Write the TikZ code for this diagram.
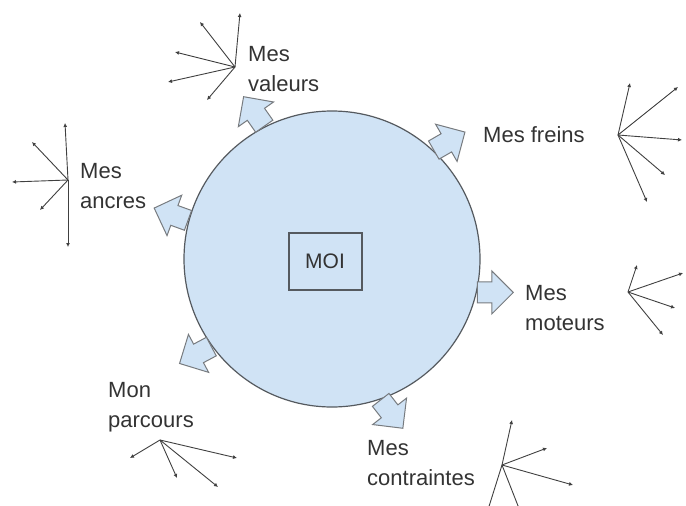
\documentclass[tikz,border=0pt]{standalone}
\usepackage{fontspec}
\setmainfont{Liberation Sans}
\usetikzlibrary{positioning,shapes.arrows,arrows.meta}
\definecolor{moiblue}{RGB}{208,227,245}
\definecolor{moigray}{RGB}{85,90,95}

\begin{document}
\begin{tikzpicture}[x=1pt,y=-1pt,
  myarrow/.style = {single arrow, draw=moigray!80, fill=moiblue, line width=1pt, minimum height=36pt, inner sep=10pt, single arrow head extend=11pt},
  mylabel/.style = {align=left, inner sep=0pt, text=black!80, font=\fontsize{22}{30}\selectfont},
  myray/.style = {-{Latex[length=4pt,width=4pt]}, black!75, line width=0.9pt}]
\useasboundingbox (0,0) rectangle (686,506);
\node[circle, draw=moigray, fill=moiblue, line width=1.2pt, minimum size=296pt] (self) at (332,259) {};
\node[draw=moigray, line width=2pt, minimum width=73pt, minimum height=57pt, text=black!80, font=\fontsize{21}{25}\selectfont] (moi) at (325,261) {MOI};
% fleches autour du cercle
\node[myarrow, rotate=125, anchor=tail] (aval) at (self.117) {};
\node[myarrow, rotate=30, anchor=tail] (afre) at (self.47) {};
\node[myarrow, rotate=160, anchor=tail] (aanc) at (self.165) {};
\node[myarrow, rotate=0, anchor=tail] (amot) at (self.-13) {};
\node[myarrow, rotate=208, anchor=tail] (apar) at (self.216) {};
\node[myarrow, rotate=-52, anchor=tail] (acon) at (self.-71) {};
% textes
\node[mylabel, anchor=north west] (tval) at (248,46) {Mes\\valeurs};
\node[mylabel, anchor=north west] (tanc) at (80,163) {Mes\\ancres};
\node[mylabel, anchor=west] (tfre) at (483,135) {Mes freins};
\node[mylabel, anchor=north west] (tmot) at (525,285) {Mes\\moteurs};
\node[mylabel, anchor=north west] (tpar) at (108,382) {Mon\\parcours};
\node[mylabel, anchor=north west] (tcon) at (367,440) {Mes\\contraintes};
% etoiles
\coordinate (val) at (235,67);
\foreach \x/\y [count=\i] in {240/13,200/22,175/52,168/82,207/100}
    {\coordinate (val\i) at (\x,\y); \draw[myray] (val) -- (val\i);}
\coordinate (anc) at (68,180);
\foreach \x/\y [count=\i] in {65/123,32/142,12/182,40/210,68/247}
    {\coordinate (anc\i) at (\x,\y); \draw[myray] (anc) -- (anc\i);}
\coordinate (fre) at (618,135);
\foreach \x/\y [count=\i] in {630/83,678/87,682/140,665/175,647/202}
    {\coordinate (fre\i) at (\x,\y); \draw[myray] (fre) -- (fre\i);}
\coordinate (mot) at (628,292);
\foreach \x/\y [count=\i] in {637/265,683/273,675/308,663/335}
    {\coordinate (mot\i) at (\x,\y); \draw[myray] (mot) -- (mot\i);}
\coordinate (par) at (160,440);
\foreach \x/\y [count=\i] in {130/458,237/458,177/478,218/487}
    {\coordinate (par\i) at (\x,\y); \draw[myray] (par) -- (par\i);}
\coordinate (con) at (502,465);
\foreach \x/\y [count=\i] in {512/420,547/448,573/485,486/516,522/516}
    {\coordinate (con\i) at (\x,\y); \draw[myray] (con) -- (con\i);}
\end{tikzpicture}
\end{document}
